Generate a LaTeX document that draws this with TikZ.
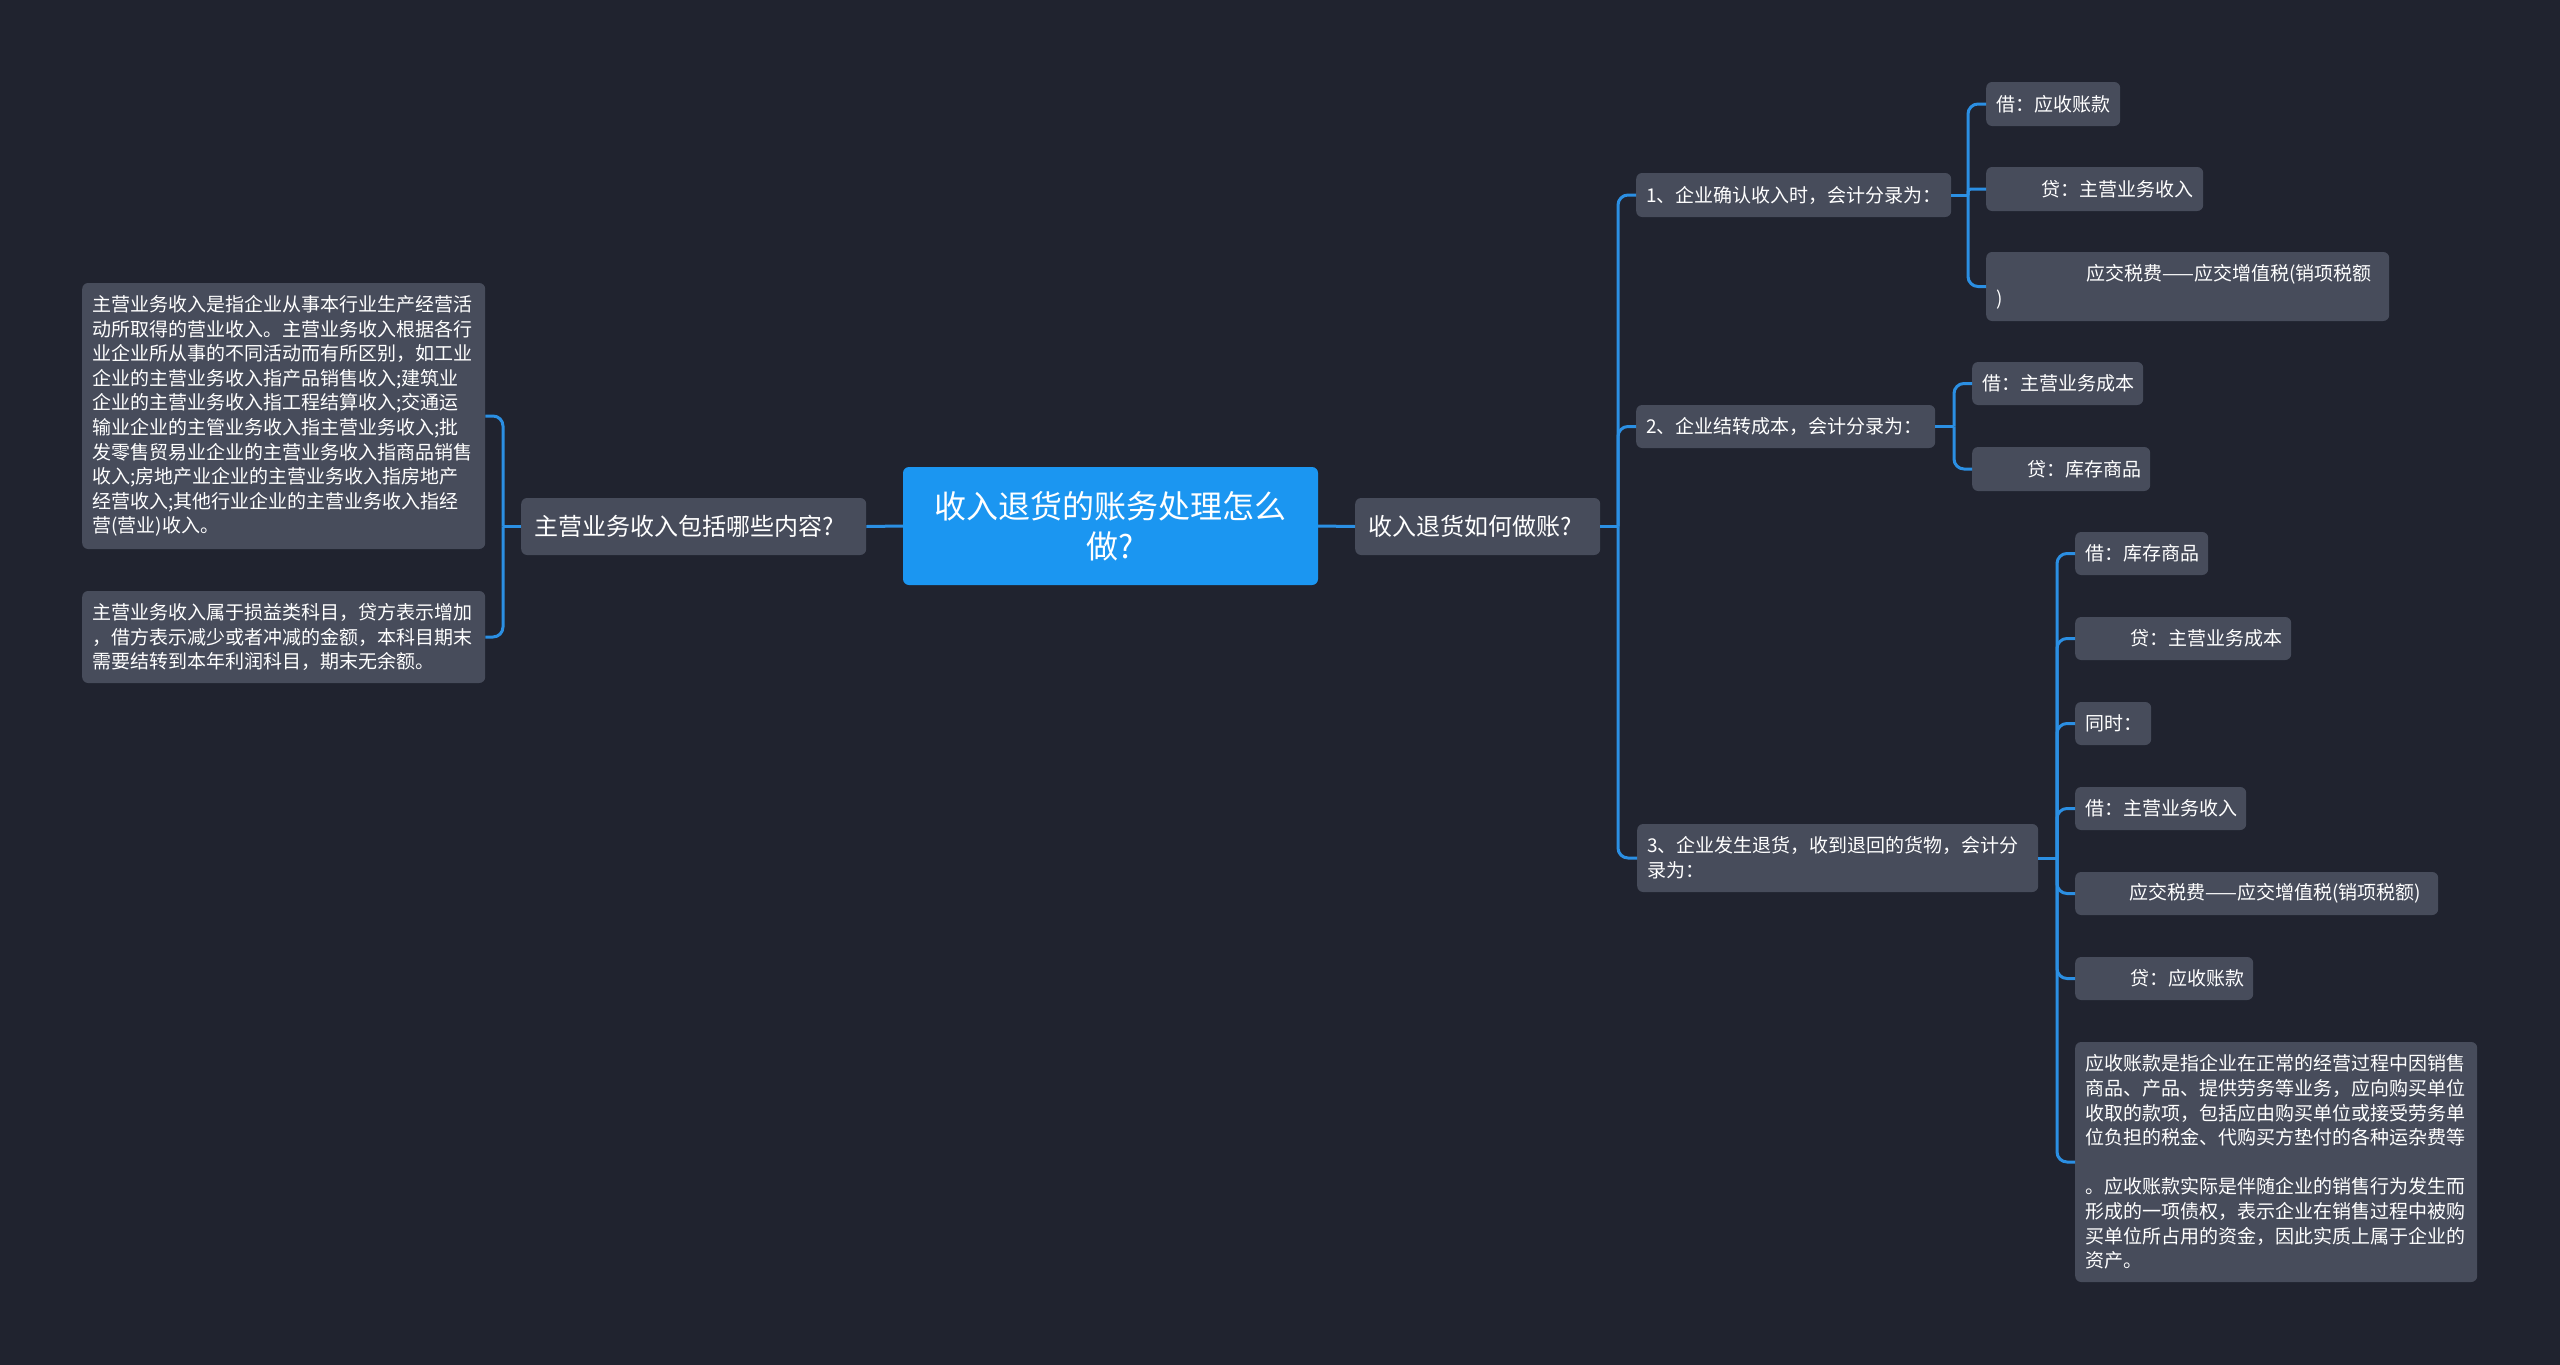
\documentclass[tikz,border=0pt]{standalone}
\usepackage{fontspec}
\setmainfont{Noto Sans CJK SC}
\definecolor{bg}{HTML}{20232F}
\definecolor{nodefill}{HTML}{474C5B}
\definecolor{rootfill}{HTML}{1B96F1}
\definecolor{linec}{HTML}{2B8FE3}
\begin{document}
\begin{tikzpicture}[x=1pt,y=-1pt,
 box/.style={fill=nodefill, rounded corners=6pt, text=white, anchor=west, align=left,
   inner xsep=10pt, inner ysep=2pt, font=\fontsize{19}{24.6}\selectfont},
 conn/.style={draw=linec, line width=3pt, rounded corners=10pt},
]
\fill[bg] (0,0) rectangle (2560,1365);
\useasboundingbox (0,0) rectangle (2560,1365);

% spine coordinates
\coordinate (sL) at (503,0);
\coordinate (sR) at (1618,0);
\coordinate (s1) at (1968,0);
\coordinate (s2) at (1954,0);
\coordinate (s3) at (2057,0);

% root and first level
\node[box, fill=rootfill, anchor=center, align=center, text width=395pt, minimum height=118pt,
  font=\fontsize{32}{40}\selectfont] (root) at (1110.5,526) {收入退货的账务处理怎么\\做?};
\node[box, text width=319pt, minimum height=57pt, inner xsep=13pt,
  font=\fontsize{24}{30}\selectfont] (L) at (521,526.5) {主营业务收入包括哪些内容?};
\node[box, text width=219pt, minimum height=57pt, inner xsep=13pt,
  font=\fontsize{24}{30}\selectfont] (R) at (1355,526.5) {收入退货如何做账?};

% left leaves
\node[box, text width=383pt, minimum height=266pt] (A) at (82,416) {主营业务收入是指企业从事本行业生产经营活\\动所取得的营业收入。主营业务收入根据各行\\业企业所从事的不同活动而有所区别，如工业\\企业的主营业务收入指产品销售收入;建筑业\\企业的主营业务收入指工程结算收入;交通运\\输业企业的主管业务收入指主营业务收入;批\\发零售贸易业企业的主营业务收入指商品销售\\收入;房地产业企业的主营业务收入指房地产\\经营收入;其他行业企业的主营业务收入指经\\营(营业)收入。};
\node[box, text width=383pt, minimum height=92pt] (B) at (82,637) {主营业务收入属于损益类科目，贷方表示增加\\，借方表示减少或者冲减的金额，本科目期末\\需要结转到本年利润科目，期末无余额。};

% branches
\node[box, text width=295pt, minimum height=44pt] (b1) at (1636,195) {1、企业确认收入时，会计分录为：};
\node[box, text width=279pt, minimum height=43pt] (b2) at (1636,426.5) {2、企业结转成本，会计分录为：};
\node[box, text width=381pt, minimum height=68pt] (b3) at (1637,858) {3、企业发生退货，收到退回的货物，会计分\\录为：};

% branch 1 leaves
\node[box, text width=114pt, minimum height=44pt] (l11) at (1986,104) {借：应收账款};
\node[box, text width=197pt, minimum height=44pt] (l12) at (1986,189) {\hspace*{45pt}贷：主营业务收入};
\node[box, text width=383pt, minimum height=69pt] (l13) at (1986,286.5) {\hspace*{90pt}应交税费——应交增值税(销项税额\\)};

% branch 2 leaves
\node[box, text width=151pt, minimum height=43pt] (l21) at (1972,383.5) {借：主营业务成本};
\node[box, text width=158pt, minimum height=44pt] (l22) at (1972,469) {\hspace*{45pt}贷：库存商品};

% branch 3 leaves
\node[box, text width=113pt, minimum height=43pt] (l31) at (2075,553.5) {借：库存商品};
\node[box, text width=196pt, minimum height=43pt] (l32) at (2075,638.5) {\hspace*{45pt}贷：主营业务成本};
\node[box, text width=56pt, minimum height=43pt] (l33) at (2075,723.5) {同时：};
\node[box, text width=151pt, minimum height=43pt] (l34) at (2075,808.5) {借：主营业务收入};
\node[box, text width=343pt, minimum height=43pt] (l35) at (2075,893.5) {\hspace*{44pt}应交税费——应交增值税(销项税额)};
\node[box, text width=158pt, minimum height=43pt] (l36) at (2075,978.5) {\hspace*{45pt}贷：应收账款};
\node[box, text width=382pt, minimum height=240pt] (l37) at (2075,1162) {应收账款是指企业在正常的经营过程中因销售\\商品、产品、提供劳务等业务，应向购买单位\\收取的款项，包括应由购买单位或接受劳务单\\位负担的税金、代购买方垫付的各种运杂费等\\[24.6pt]。应收账款实际是伴随企业的销售行为发生而\\形成的一项债权，表示企业在销售过程中被购\\买单位所占用的资金，因此实质上属于企业的\\资产。};

% connectors
\draw[conn] (root.west) -- (L.east);
\draw[conn] (root.east) -- (R.west);

\draw[conn] (L.west) -- (L.west -| sL);
\foreach \n in {A,B} \draw[conn] (L.west -| sL) |- (\n.east);

\draw[conn] (R.east) -- (R.east -| sR);
\foreach \n in {b1,b2,b3} \draw[conn] (R.east -| sR) |- (\n.west);

\draw[conn] (b1.east) -- (b1.east -| s1);
\draw[conn] (b1.east -| s1) |- (l11.west);
\draw[conn, rounded corners=3pt] (b1.east -| s1) |- (l12.west);
\draw[conn] (b1.east -| s1) |- (l13.west);

\draw[conn] (b2.east) -- (b2.east -| s2);
\foreach \n in {l21,l22} \draw[conn] (b2.east -| s2) |- (\n.west);

\draw[conn] (b3.east) -- (b3.east -| s3);
\foreach \n in {l31,l32,l33,l34,l35,l36,l37} \draw[conn] (b3.east -| s3) |- (\n.west);
\end{tikzpicture}
\end{document}
